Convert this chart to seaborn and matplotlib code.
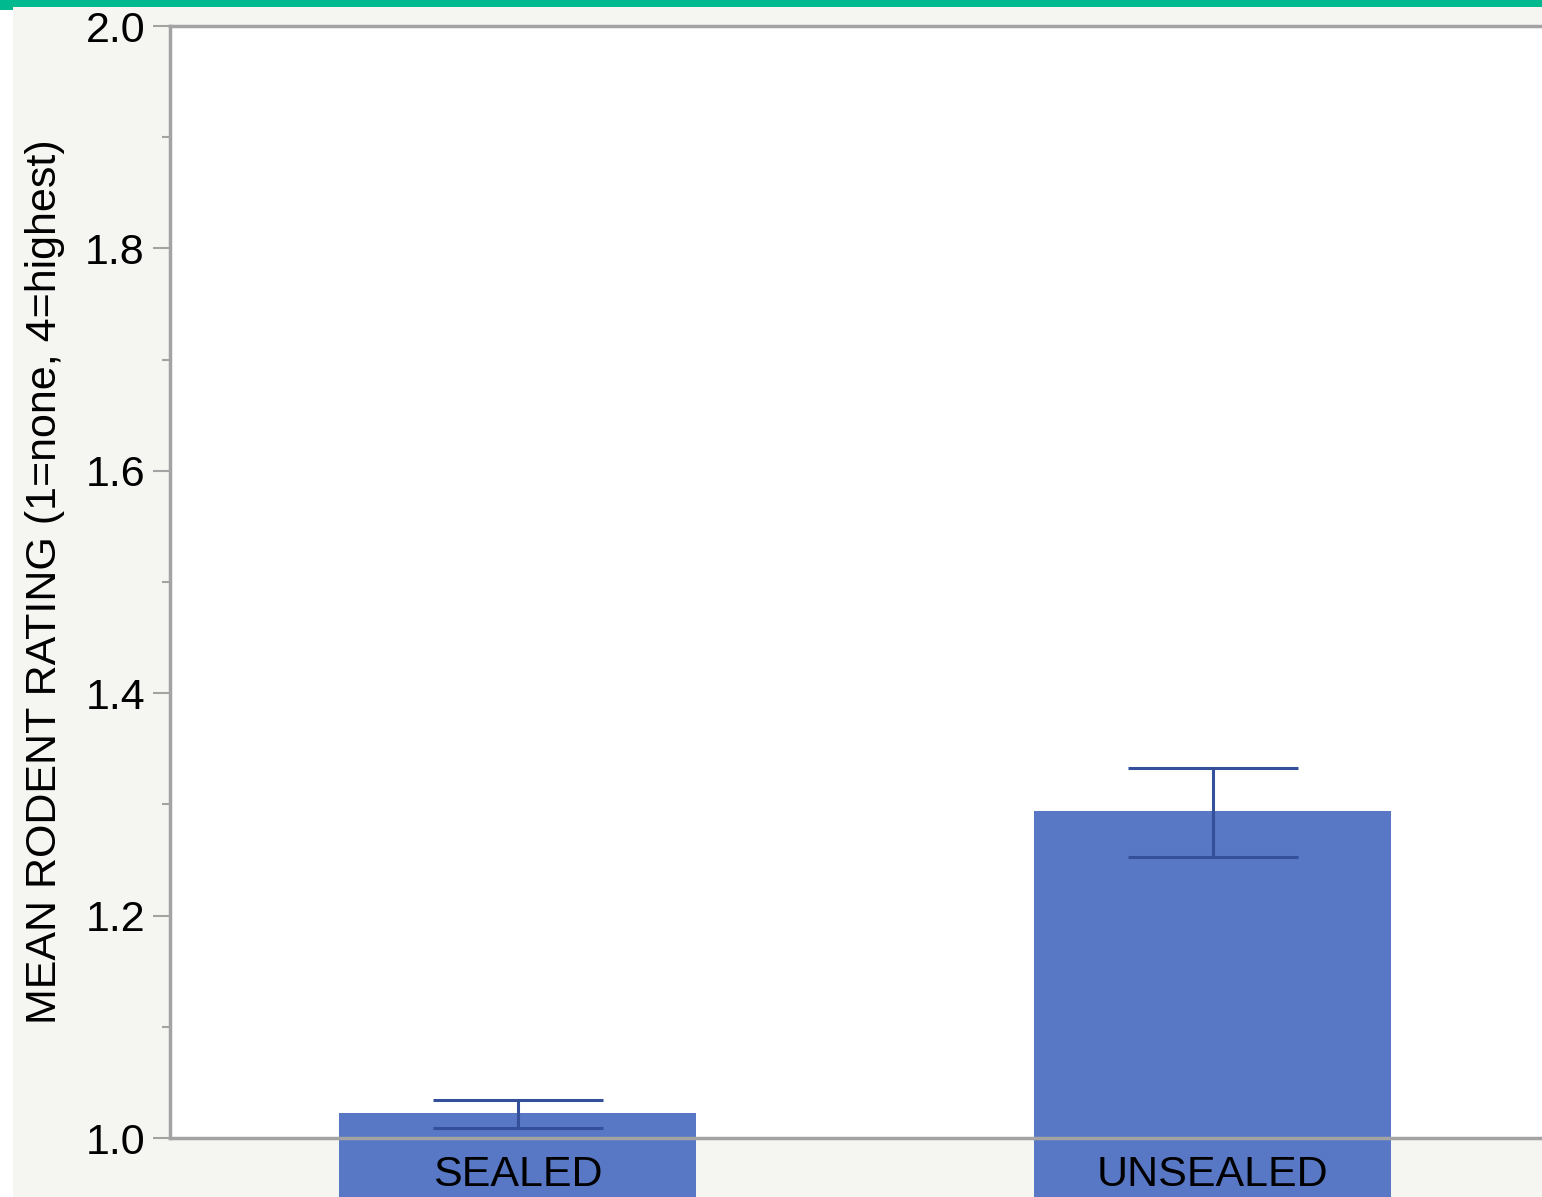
import numpy as np
import pandas as pd
import matplotlib
matplotlib.use("Agg")
import matplotlib.pyplot as plt
from matplotlib.patches import Rectangle
from matplotlib.ticker import MultipleLocator
import seaborn as sns

# data
groups = ["SEALED", "UNSEALED"]
mean_rating = [1.0225, 1.294]
err_low = [1.009, 1.253]
err_high = [1.034, 1.333]

sns.set_style("white")
plt.rcParams["font.family"] = ["Liberation Sans", "DejaVu Sans"]
plt.rcParams["text.color"] = "black"
plt.rcParams["axes.labelcolor"] = "black"
plt.rcParams["xtick.color"] = "black"
plt.rcParams["ytick.color"] = "black"

BG = "#f5f6f2"
BAR = "#5877c4"
ERR = "#34509a"
SPINE = "#a3a3a3"

fig = plt.figure(figsize=(15.42, 11.97), dpi=100, facecolor=BG)
ax = fig.add_axes([170 / 1542, 1 - 1138 / 1197, 1390 / 1542, 1112 / 1197])
ax.set_facecolor("white")

df = pd.DataFrame({"group": groups, "rating": mean_rating})
sns.barplot(data=df, x="group", y="rating", color=BAR, saturation=1,
            width=0.515, errorbar=None, ax=ax, zorder=1)
for p in ax.patches:
    p.set_clip_on(False)
    p.set_edgecolor("none")

means = np.array(mean_rating)
yerr = np.array([means - np.array(err_low), np.array(err_high) - means])
ax.errorbar(np.arange(len(groups)), means, yerr=yerr, fmt="none",
            ecolor=ERR, elinewidth=2.2, capsize=61.5, capthick=2.2, zorder=3)

ax.set_ylim(1.0, 2.0)
ax.set_xlim(-0.5, 1.5)
ax.yaxis.set_major_locator(MultipleLocator(0.2))
ax.yaxis.set_minor_locator(MultipleLocator(0.1))
ax.tick_params(axis="y", which="major", length=12, width=1.5, color=SPINE,
               labelsize=31, labelcolor="black", pad=6, left=True)
ax.tick_params(axis="y", which="minor", length=6, width=1.5, color=SPINE, left=True)
ax.tick_params(axis="x", length=0, labelsize=31, labelcolor="black", pad=12)
ax.set_xlabel("")
ax.set_ylabel("MEAN RODENT RATING (1=none, 4=highest)", fontsize=31, color="black")
ax.yaxis.set_label_coords(-0.0755, 0.5)
ax.xaxis.set_zorder(4)
ax.yaxis.set_zorder(4)

for side in ["left", "bottom", "top"]:
    ax.spines[side].set_color(SPINE)
    ax.spines[side].set_linewidth(2.5)
    ax.spines[side].set_zorder(2)
ax.spines["right"].set_visible(False)

# decorative band and left strip
fig.patches.append(Rectangle((0, 0), 13 / 1542, 1, transform=fig.transFigure,
                             facecolor="white", edgecolor="none", zorder=-1))
fig.patches.append(Rectangle((0, 1 - 7 / 1197), 1, 7 / 1197, transform=fig.transFigure,
                             facecolor="#00b98e", edgecolor="none"))
fig.patches.append(Rectangle((0, 1 - 10 / 1197), 13 / 1542, 10 / 1197, transform=fig.transFigure,
                             facecolor="#00b98e", edgecolor="none"))

fig.savefig("out.png", dpi=100, facecolor=BG)
